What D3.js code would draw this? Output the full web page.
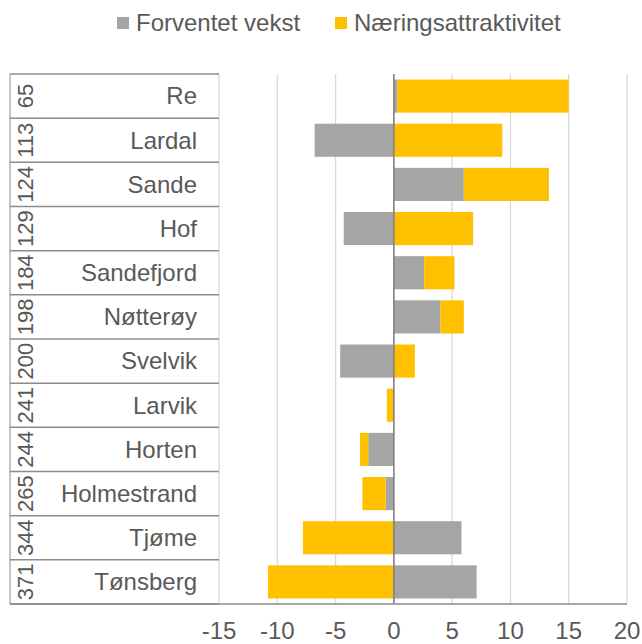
<!DOCTYPE html>
<html>
<head>
<meta charset="utf-8">
<script src="https://cdn.jsdelivr.net/npm/d3@7"></script>
<style>
  body { margin: 0; background: #fff; }
  text { font-family: "Liberation Sans", Arial, sans-serif; fill: #595959; }
</style>
</head>
<body>
<svg id="chart" width="642" height="644"></svg>
<script>
// data
var ranks = ["65", "113", "124", "129", "184", "198", "200", "241", "244", "265", "344", "371"];
var names = ["Re", "Lardal", "Sande", "Hof", "Sandefjord", "Nøtterøy", "Svelvik", "Larvik", "Horten", "Holmestrand", "Tjøme", "Tønsberg"];
var vekst = [0.3, -6.8, 6.0, -4.3, 2.6, 4.0, -4.6, 0, -2.2, -0.7, 5.8, 7.1];
var attraktivitet = [14.7, 9.3, 7.3, 6.8, 2.6, 2.0, 1.8, -0.6, -0.7, -2.0, -7.8, -10.8];
var xTicks = [-15, -10, -5, 0, 5, 10, 15, 20];

var seriesNames = ["Forventet vekst", "Næringsattraktivitet"];
var colors = ["#A5A5A5", "#FFC000"];

var svg = d3.select("#chart");
var margin = {top: 74, right: 15, bottom: 40, left: 219};
var width = 642 - margin.left - margin.right;
var height = 644 - margin.top - margin.bottom;
var tableLeft = 10;

var x = d3.scaleLinear().domain([-15, 20]).range([0, width]);
var y = d3.scaleBand().domain(names).range([0, height]).paddingInner(0.25).paddingOuter(0.125);

var g = svg.append("g").attr("transform", "translate(" + margin.left + "," + margin.top + ")");

// gridlines
g.selectAll(".grid")
  .data(xTicks)
  .enter().append("line")
  .attr("x1", d => x(d)).attr("x2", d => x(d))
  .attr("y1", 0).attr("y2", height)
  .attr("stroke", "#D9D9D9").attr("stroke-width", 1.3);

// stacked bars: positives and negatives stack separately
var rows = names.map(function(n, i) {
  var pos = 0, neg = 0, segs = [];
  [vekst[i], attraktivitet[i]].forEach(function(v, k) {
    var x0;
    if (v >= 0) { x0 = pos; pos += v; segs.push({k: k, a: x0, b: pos}); }
    else { x0 = neg; neg += v; segs.push({k: k, a: neg, b: x0}); }
  });
  return {name: n, segs: segs};
});

rows.forEach(function(r) {
  g.selectAll(null)
    .data(r.segs.filter(s => s.b - s.a > 0))
    .enter().append("rect")
    .attr("x", s => x(s.a))
    .attr("width", s => x(s.b) - x(s.a))
    .attr("y", y(r.name))
    .attr("height", y.bandwidth())
    .attr("fill", s => colors[s.k]);
});

// zero line
g.append("line")
  .attr("x1", x(0)).attr("x2", x(0))
  .attr("y1", 0).attr("y2", height)
  .attr("stroke", "#7F7F7F").attr("stroke-width", 1.5);

// bottom axis line + tick labels
g.append("line")
  .attr("x1", tableLeft - margin.left).attr("x2", width)
  .attr("y1", height).attr("y2", height)
  .attr("stroke", "#8C8C8C").attr("stroke-width", 1.5);

g.selectAll(".tick-label")
  .data(xTicks)
  .enter().append("text")
  .attr("x", d => x(d))
  .attr("y", height + 35)
  .attr("text-anchor", "middle")
  .style("font-size", "24px")
  .text(d => d);

// two-level category table on the left
var step = height / names.length;
var tbl = g.append("g");
d3.range(names.length + 1).forEach(function(i) {
  tbl.append("line")
    .attr("x1", tableLeft - margin.left).attr("x2", 0)
    .attr("y1", i * step).attr("y2", i * step)
    .attr("stroke", "#8C8C8C").attr("stroke-width", 1.5);
});
tbl.append("line")
  .attr("x1", tableLeft - margin.left).attr("x2", tableLeft - margin.left)
  .attr("y1", 0).attr("y2", height)
  .attr("stroke", "#8C8C8C").attr("stroke-width", 1);

names.forEach(function(n, i) {
  var cy = y(n) + y.bandwidth() / 2;
  tbl.append("text")
    .attr("x", -22).attr("y", cy)
    .attr("dy", "0.35em")
    .attr("text-anchor", "end")
    .style("font-size", "24px")
    .text(n);
  tbl.append("text")
    .attr("transform", "translate(" + (tableLeft - margin.left + 15) + "," + cy + ") rotate(-90)")
    .attr("text-anchor", "middle")
    .attr("dy", "0.35em")
    .style("font-size", "22px")
    .text(ranks[i]);
});

// legend
var legend = svg.append("g").attr("transform", "translate(117,23)");
var lx = [0, 218];
seriesNames.forEach(function(s, i) {
  legend.append("rect")
    .attr("x", lx[i]).attr("y", -6)
    .attr("width", 12).attr("height", 12)
    .attr("fill", colors[i]);
  legend.append("text")
    .attr("x", lx[i] + 19).attr("y", 0)
    .attr("dy", "0.35em")
    .style("font-size", "24px")
    .text(s);
});
</script>
</body>
</html>
